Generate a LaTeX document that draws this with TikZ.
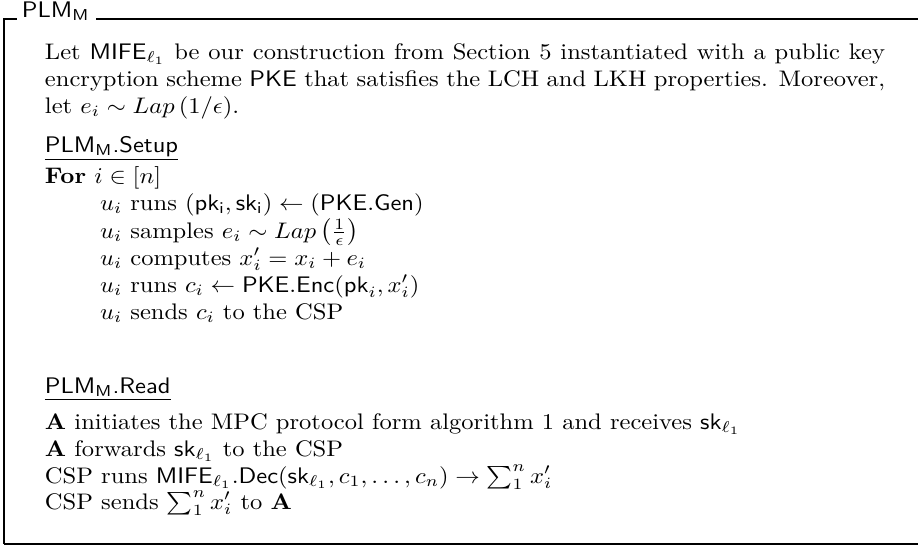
\documentclass[tikz,border=0pt]{standalone}
\usepackage{amsmath}
\newlength{\linew}
\setlength{\linew}{342.5pt}
\newcommand{\hs}[1]{\scalebox{1.09}[1]{#1}}
\begin{document}
\begin{tikzpicture}[x=0.4444pt,y=-0.4444pt,
  frameline/.style={line width=0.9pt},
  txt/.style={anchor=base west,inner sep=0pt,outer sep=0pt},
  ttl/.style={anchor=base west,inner sep=0pt,outer sep=0pt,font=\sffamily}]
\useasboundingbox (0,0) rectangle (918,548);
% frame
\coordinate (tl) at (4.3,19);
\coordinate (tr) at (925,19);
\coordinate (bl) at (4.3,544);
\coordinate (br) at (925,544);
\node[ttl] (title) at (22,17) {\hs{PLM$_{\mathsf{M}}$}};
\draw[frameline] (bl) -- (tl) -- ([xshift=-2.2pt]title.west |- tl);
\draw[frameline] ([xshift=3pt]title.east |- tr) -- (tr);
\draw[frameline] (bl) -- (br);
% intro paragraph
\node[txt] (p1) at (45,59) {\hs{\makebox[\linew][s]{Let $\mathsf{MIFE}_{\ell_1}$ be our construction from Section 5 instantiated with a public key}}};
\node[txt] (p2) at (45,86) {\hs{\makebox[\linew][s]{encryption scheme $\mathsf{PKE}$ that satisfies the LCH and LKH properties. Moreover,}}};
\node[txt] (p3) at (45,113) {\hs{let $e_i \sim Lap\left(1/\epsilon\right)$.}};
% setup
\node[txt] (setup) at (45,152) {\hs{\underline{\textsf{PLM$_{\mathsf{M}}$.Setup}}}};
\node[txt] (for) at (45,183) {\hs{\textbf{For} $i \in [n]$}};
\node[txt] (s1) at (100,210) {\hs{$u_i$ runs $(\mathsf{pk_i},\mathsf{sk_i}) \leftarrow (\mathsf{PKE.Gen})$}};
\node[txt] (s2) at (100,238) {\hs{$u_i$ samples $e_i \sim Lap\left(\frac{1}{\epsilon}\right)$}};
\node[txt] (s3) at (100,265) {\hs{$u_i$ computes $x'_i = x_i + e_i$}};
\node[txt] (s4) at (100,292) {\hs{$u_i$ runs $c_i \leftarrow \mathsf{PKE.Enc}(\mathsf{pk}_i, x'_i)$}};
\node[txt] (s5) at (100,319) {\hs{$u_i$ sends $c_i$ to the CSP}};
% read
\node[txt] (read) at (45,393) {\hs{\underline{\textsf{PLM$_{\mathsf{M}}$.Read}}}};
\node[txt] (r1) at (45,429) {\hs{$\mathbf{A}$ initiates the MPC protocol form algorithm 1 and receives $\mathsf{sk}_{\ell_1}$}};
\node[txt] (r2) at (45,456) {\hs{$\mathbf{A}$ forwards $\mathsf{sk}_{\ell_1}$ to the CSP}};
\node[txt] (r3) at (45,483) {\hs{CSP runs $\mathsf{MIFE}_{\ell_1}.\mathsf{Dec}(\mathsf{sk}_{\ell_1}, c_1, \ldots, c_n) \rightarrow \sum_1^n x'_i$}};
\node[txt] (r4) at (45,509) {\hs{CSP sends $\sum_1^n x'_i$ to $\mathbf{A}$}};
\end{tikzpicture}
\end{document}
